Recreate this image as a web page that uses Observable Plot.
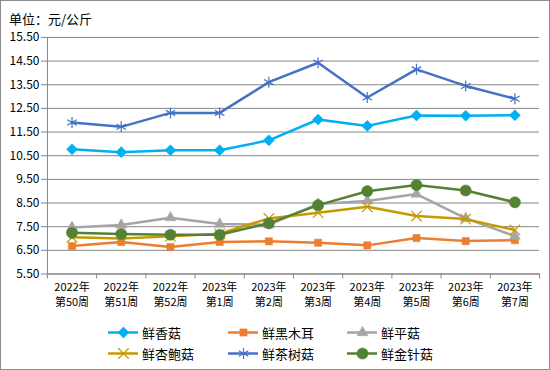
<!DOCTYPE html>
<html>
<head>
<meta charset="utf-8">
<script src="https://cdn.jsdelivr.net/npm/d3@7"></script>
<script src="https://cdn.jsdelivr.net/npm/@observablehq/plot@0.6"></script>
<style>
  body { margin: 0; background: #fff; }
  #wrap { position: relative; width: 550px; height: 370px; box-sizing: border-box; border: 1px solid #8c8c8c; font-family: "Noto Sans CJK SC", sans-serif; overflow: hidden; }
  #title { position: absolute; left: 8px; top: 8px; font-size: 13px; color: #000; }
  #chart { position: absolute; left: -1px; top: -1px; }
  #legend { position: absolute; left: 0; top: 320px; width: 550px; height: 48px; }
  .item { position: absolute; display: flex; align-items: center; font-size: 13px; color: #000; height: 20px; }
  .item svg { margin-right: 4px; }
</style>
</head>
<body>
<div id="wrap">
  <div id="chart"></div>
  <div id="title">单位：元/公斤</div>
  <div id="legend"></div>
</div>
<script>
const categories = ["2022年\n第50周","2022年\n第51周","2022年\n第52周","2023年\n第1周","2023年\n第2周","2023年\n第3周","2023年\n第4周","2023年\n第5周","2023年\n第6周","2023年\n第7周"];
const seriesNames = ["鲜香菇","鲜黑木耳","鲜平菇","鲜杏鲍菇","鲜茶树菇","鲜金针菇"];
const xiangu    = [10.77, 10.65, 10.73, 10.73, 11.15, 12.03, 11.76, 12.20, 12.19, 12.21];
const heimuer   = [6.68, 6.85, 6.64, 6.85, 6.88, 6.82, 6.71, 7.02, 6.89, 6.93];
const pinggu    = [7.47, 7.57, 7.88, 7.61, 7.58, 8.46, 8.59, 8.88, 7.85, 7.10];
const xingbaogu = [7.05, 7.00, 7.09, 7.20, 7.85, 8.09, 8.34, 7.95, 7.82, 7.36];
const chashugu  = [11.90, 11.72, 12.31, 12.31, 13.61, 14.43, 12.96, 14.15, 13.45, 12.91];
const jinzhengu = [7.24, 7.19, 7.16, 7.16, 7.64, 8.41, 9.00, 9.26, 9.03, 8.53];
const yTicks = [5.5, 6.5, 7.5, 8.5, 9.5, 10.5, 11.5, 12.5, 13.5, 14.5, 15.5];

const seriesValues = [xiangu, heimuer, pinggu, xingbaogu, chashugu, jinzhengu];
const colors = ["#00B0F0", "#ED7D31", "#A5A5A5", "#C49A00", "#4472C4", "#548235"];
const symbols = ["diamond2", "square2", "triangle2", "times", "asterisk", "circle"];
const sizes = [5, 4.6, 5.2, 4.8, 5.2, 5.6];
const filled = [true, true, true, false, false, true];

const data = [];
seriesNames.forEach((name, s) => {
  seriesValues[s].forEach((v, i) => data.push({series: name, idx: i, value: v}));
});
const idxs = categories.map((_, i) => i);
const bounds = d3.range(-0.5, categories.length, 1);

const marks = [
  Plot.gridY(yTicks, {stroke: "#868686", strokeOpacity: 1}),
  Plot.frame({anchor: "left", stroke: "#868686"}),
  Plot.frame({anchor: "bottom", stroke: "#868686"}),
  Plot.axisY({ticks: yTicks, tickFormat: d => d.toFixed(2), tickSize: 6, tickPadding: 2, stroke: "#868686", fontSize: 12, fill: "#000", label: null}),
  Plot.axisX({ticks: bounds, tickSize: 5, tickFormat: () => "", stroke: "#868686", label: null}),
  Plot.axisX({ticks: idxs, tickSize: 0, tickPadding: 6, tickFormat: i => categories[i], fontSize: 11, lineHeight: 1.4, fill: "#000", label: null})
];
seriesNames.forEach((name, s) => {
  const d = data.filter(r => r.series === name);
  marks.push(Plot.line(d, {x: "idx", y: "value", stroke: colors[s], strokeWidth: 2.5}));
  if (filled[s]) {
    marks.push(Plot.dot(d, {x: "idx", y: "value", symbol: () => symbols[s], fill: colors[s], stroke: colors[s], r: sizes[s], strokeWidth: 0.5}));
  } else {
    marks.push(Plot.dot(d, {x: "idx", y: "value", symbol: () => symbols[s], stroke: colors[s], r: sizes[s], strokeWidth: 1.2}));
  }
});

const chart = Plot.plot({
  width: 550,
  height: 320,
  marginTop: 37,
  marginBottom: 46,
  marginLeft: 47,
  marginRight: 10,
  style: {fontFamily: "'Noto Sans CJK SC', sans-serif", background: "transparent", overflow: "visible"},
  x: {type: "linear", domain: [-0.5, categories.length - 0.5], axis: null, label: null},
  y: {domain: [5.5, 15.5], axis: null, label: null},
  symbol: {type: "identity"},
  marks
});
document.getElementById("chart").appendChild(chart);

// legend
const legend = document.getElementById("legend");
const positions = [[107, 1], [227, 1], [346, 1], [107, 22], [227, 22], [346, 22]];
seriesNames.forEach((name, s) => {
  const item = document.createElement("div");
  item.className = "item";
  item.style.left = positions[s][0] + "px";
  item.style.top = positions[s][1] + "px";
  const sw = Plot.plot({
    width: 30, height: 20, margin: 0,
    x: {domain: [0, 1], axis: null}, y: {domain: [0, 1], axis: null},
    symbol: {type: "identity"},
    style: {background: "transparent", overflow: "visible"},
    marks: [
      Plot.ruleY([0.5], {x1: 0, x2: 1, stroke: colors[s], strokeWidth: 2.5}),
      filled[s]
        ? Plot.dot([0.5], {x: 0.5, y: 0.5, symbol: () => symbols[s], fill: colors[s], stroke: colors[s], r: sizes[s], strokeWidth: 0.5})
        : Plot.dot([0.5], {x: 0.5, y: 0.5, symbol: () => symbols[s], stroke: colors[s], r: sizes[s], strokeWidth: 1.2})
    ]
  });
  item.appendChild(sw);
  const t = document.createElement("span");
  t.textContent = name;
  item.appendChild(t);
  legend.appendChild(item);
});
</script>
</body>
</html>
